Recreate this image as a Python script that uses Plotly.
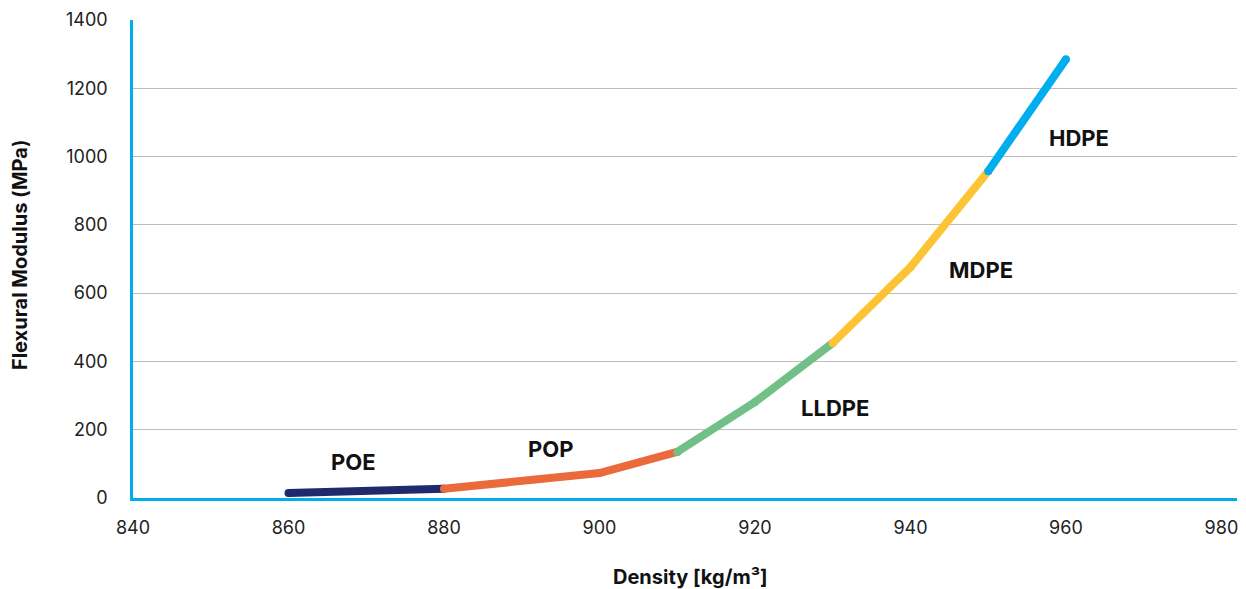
import plotly.graph_objects as go

# Data
segments = ["POE", "POP", "LLDPE", "MDPE", "HDPE"]
poe_x = [860, 880]
poe_y = [15, 27]
pop_x = [880, 900, 910]
pop_y = [27, 73, 135]
lldpe_x = [910, 920, 930]
lldpe_y = [135, 281, 454]
mdpe_x = [930, 940, 950]
mdpe_y = [454, 676, 957]
hdpe_x = [950, 960]
hdpe_y = [957, 1285]

label_x = [868.3, 893.7, 930.3, 949.1, 961.7]
label_y = [105, 143, 263, 667, 1054]

x_ticks = [840, 860, 880, 900, 920, 940, 960, 980]
y_ticks = [0, 200, 400, 600, 800, 1000, 1200, 1400]

colors = ["#1E2A6B", "#EB6A3B", "#72BF87", "#FCC334", "#00AEEF"]
xs = [poe_x, pop_x, lldpe_x, mdpe_x, hdpe_x]
ys = [poe_y, pop_y, lldpe_y, mdpe_y, hdpe_y]

fig = go.Figure()
for name, x, y, c in zip(segments, xs, ys, colors):
    fig.add_trace(go.Scatter(x=x, y=y, mode="lines+markers", name=name,
                             line=dict(color=c, width=8),
                             marker=dict(color=c, size=8, line=dict(width=0)),
                             showlegend=False))

for name, lx, ly in zip(segments, label_x, label_y):
    fig.add_annotation(x=lx, y=ly, text=f"<b>{name}</b>", showarrow=False,
                       font=dict(size=22, color="#111111", family="Inter"),
                       xanchor="center", yanchor="middle")

axis_font = dict(size=18, color="#222222", family="Inter")
fig.update_layout(
    width=1238, height=581,
    margin=dict(l=125, r=9, t=12, b=91),
    paper_bgcolor="white", plot_bgcolor="white",
    xaxis=dict(range=[840, 982], tickvals=x_ticks, showgrid=False, zeroline=False,
               showline=True, linecolor="#00AEEF", linewidth=2.5, automargin=False,
               tickfont=axis_font, ticks="", ticklabelstandoff=12),
    yaxis=dict(range=[0, 1400], tickvals=y_ticks, showgrid=True, gridcolor="#BDBDBD",
               gridwidth=1, zeroline=False, showline=True, linecolor="#00AEEF",
               linewidth=2.5, automargin=False, tickfont=axis_font, ticks="",
               ticklabelstandoff=19),
)

fig.add_annotation(xref="paper", yref="paper", x=0.505, y=-0.165, xanchor="center",
                   yanchor="middle", text="<b>Density [kg/m³]</b>", showarrow=False,
                   font=dict(size=20, color="#111111", family="Inter"))
fig.add_annotation(xref="paper", yref="paper", x=-0.1025, y=0.51, xanchor="center",
                   yanchor="middle", text="<b>Flexural Modulus (MPa)</b>", showarrow=False,
                   textangle=-90, borderpad=0,
                   font=dict(size=20, color="#111111", family="Inter"))

fig.write_html("out.html")
